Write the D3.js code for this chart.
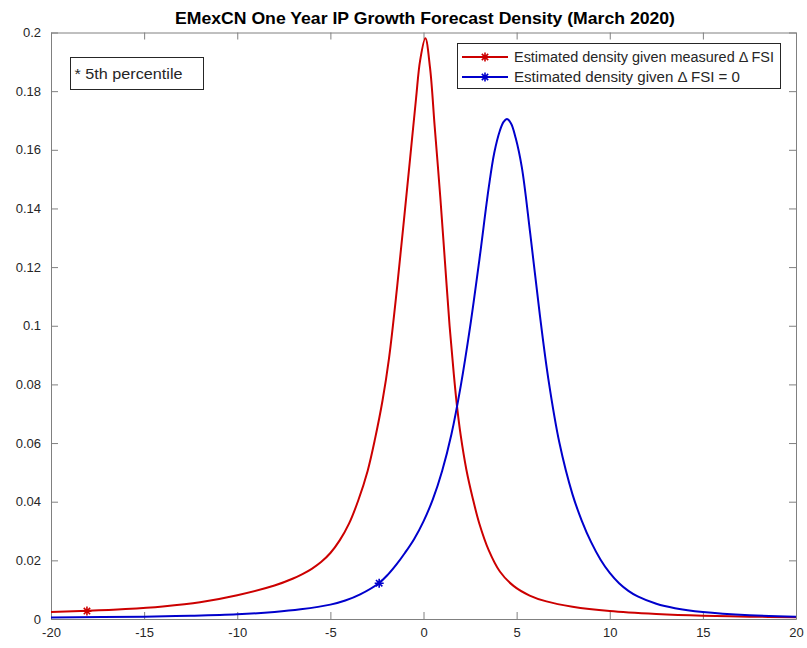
<!DOCTYPE html>
<html>
<head>
<meta charset="utf-8">
<script src="https://cdn.jsdelivr.net/npm/d3@7"></script>
<style>
  html, body { margin: 0; padding: 0; background: #fff; }
  svg { display: block; font-family: "Liberation Sans", Arial, Helvetica, sans-serif; }
</style>
</head>
<body>
<svg id="chart" width="807" height="648"></svg>
<script>
// ---- data ----
const chartTitle = "EMexCN One Year IP Growth Forecast Density (March 2020)";
const seriesNames = ["Estimated density given measured \u0394 FSI", "Estimated density given \u0394 FSI = 0"];
const seriesColors = ["#cc0000", "#0000cc"];

const redX = [-20, -18, -16, -14, -12, -10, -8, -7, -6.5, -6, -5.5, -5, -4.5, -4, -3.5, -3.0, -2.6, -2.2, -1.85, -1.42, -1.05, -0.72, -0.4, -0.18, 0.1, 0.35, 0.6, 0.9, 1.15, 1.4, 1.62, 1.8, 2.0, 2.3, 2.65, 3.0, 3.5, 4.1, 4.85, 5.7, 6.6, 8, 10, 12.5, 15, 17.5, 20];
const redY = [0.0024, 0.0028, 0.0034, 0.0043, 0.0057, 0.0081, 0.0114, 0.0138, 0.0153, 0.0171, 0.0194, 0.0225, 0.0268, 0.0325, 0.0405, 0.0505, 0.0615, 0.0745, 0.0890, 0.1130, 0.1360, 0.1570, 0.1775, 0.1905, 0.1980, 0.1880, 0.1680, 0.1440, 0.1220, 0.1000, 0.0840, 0.0725, 0.0625, 0.0510, 0.0410, 0.0325, 0.0235, 0.0162, 0.0112, 0.0080, 0.0060, 0.0042, 0.0027, 0.0017, 0.0011, 0.0008, 0.0006];

const blueX = [-20, -15, -12.5, -10, -8, -6.6, -5, -4.2, -3.4, -2.4, -1.9, -1.45, -1.0, -0.5, 0, 0.5, 1.0, 1.5, 2.0, 2.5, 3.0, 3.5, 3.8, 4.1, 4.3, 4.48, 4.7, 4.95, 5.28, 5.73, 6.25, 6.7, 7.3, 8.0, 8.5, 9.0, 9.5, 10.0, 10.5, 11.0, 11.5, 12.5, 13.5, 15, 17.5, 20];
const blueY = [0.0005, 0.0008, 0.0011, 0.0016, 0.0024, 0.0033, 0.0049, 0.0063, 0.0084, 0.0122, 0.0152, 0.0186, 0.0225, 0.0273, 0.0333, 0.0408, 0.0505, 0.0630, 0.0795, 0.0995, 0.1225, 0.1470, 0.1590, 0.1665, 0.1695, 0.1705, 0.1690, 0.1640, 0.1540, 0.1315, 0.1035, 0.0820, 0.0600, 0.0425, 0.0335, 0.0262, 0.0203, 0.0157, 0.0122, 0.0096, 0.0077, 0.0052, 0.0037, 0.0024, 0.0013, 0.0008];

// 5th percentile markers
const markerX = [-18.07, -2.38];
const markerY = [0.0027, 0.0122];

const xTicks = [-20, -15, -10, -5, 0, 5, 10, 15, 20];
const yTicks = [0, 0.02, 0.04, 0.06, 0.08, 0.1, 0.12, 0.14, 0.16, 0.18, 0.2];
const noteText = "* 5th percentile";

// ---- layout ----
const svg = d3.select("#chart");
const L = 51, R = 796, T = 32.5, B = 619;
const x = d3.scaleLinear().domain([-20, 20]).range([L, R]);
const y = d3.scaleLinear().domain([0, 0.2]).range([B, T]);
const axisColor = "#808080";
const textColor = "#262626";
const tickLen = 7;

function styleAxis(g) {
  g.selectAll("path.domain").attr("stroke", axisColor).attr("stroke-width", 1);
  g.selectAll(".tick line").attr("stroke", axisColor).attr("stroke-width", 1);
  g.selectAll(".tick text").attr("fill", textColor).attr("font-size", 13)
    .attr("font-family", "'Liberation Sans', Arial, sans-serif");
}
const yFmt = d => d === 0 ? "0" : String(+d.toFixed(2));
const xFmt = d => String(d);

svg.append("g").attr("transform", `translate(0,${B})`)
  .call(d3.axisBottom(x).tickValues(xTicks).tickSizeInner(-tickLen).tickSizeOuter(0).tickPadding(9).tickFormat(xFmt))
  .call(styleAxis);
svg.append("g").attr("transform", `translate(0,${T})`)
  .call(d3.axisTop(x).tickValues(xTicks).tickSizeInner(-tickLen).tickSizeOuter(0).tickFormat(""))
  .call(styleAxis);
svg.append("g").attr("transform", `translate(${L},0)`)
  .call(d3.axisLeft(y).tickValues(yTicks).tickSizeInner(-tickLen).tickSizeOuter(0).tickPadding(10).tickFormat(yFmt))
  .call(styleAxis);
svg.append("g").attr("transform", `translate(${R},0)`)
  .call(d3.axisRight(y).tickValues(yTicks).tickSizeInner(-tickLen).tickSizeOuter(0).tickFormat(""))
  .call(styleAxis);

// curves
const line = d3.line().x(d => x(d[0])).y(d => y(d[1])).curve(d3.curveCatmullRom.alpha(0.5));
const series = [d3.zip(redX, redY), d3.zip(blueX, blueY)];
svg.append("clipPath").attr("id", "clip").append("rect")
  .attr("x", L).attr("y", T).attr("width", R - L).attr("height", B - T);
series.forEach((s, i) => {
  svg.append("path").datum(s).attr("d", line).attr("fill", "none")
    .attr("stroke", seriesColors[i]).attr("stroke-width", 2).attr("clip-path", "url(#clip)");
});

// asterisk marker
function asterisk(g, cx, cy, r, color) {
  const a = r * Math.SQRT1_2;
  const d = `M${cx - r},${cy}L${cx + r},${cy}M${cx},${cy - r}L${cx},${cy + r}` +
            `M${cx - a},${cy - a}L${cx + a},${cy + a}M${cx - a},${cy + a}L${cx + a},${cy - a}`;
  g.append("path").attr("d", d).attr("stroke", color).attr("stroke-width", 1.6).attr("fill", "none");
}
markerX.forEach((mx, i) => asterisk(svg, x(mx), y(markerY[i]), 4.5, seriesColors[i]));

// title
svg.append("text").attr("x", 425).attr("y", 24).attr("text-anchor", "middle")
  .attr("font-size", 16.5).attr("font-weight", "bold").attr("fill", "#000")
  .attr("textLength", 500).attr("lengthAdjust", "spacingAndGlyphs").text(chartTitle);

// legend
const lg = svg.append("g");
lg.append("rect").attr("x", 457.5).attr("y", 43.5).attr("width", 323).attr("height", 45)
  .attr("fill", "#fff").attr("stroke", "#262626").attr("stroke-width", 1);
const legendW = [260, 226];
seriesNames.forEach((name, i) => {
  const yy = 57 + i * 20;
  lg.append("line").attr("x1", 462).attr("x2", 508).attr("y1", yy).attr("y2", yy)
    .attr("stroke", seriesColors[i]).attr("stroke-width", 2);
  asterisk(lg, 485, yy, 4.5, seriesColors[i]);
  lg.append("text").attr("x", 514).attr("y", yy).attr("dy", "0.35em")
    .attr("font-size", 14).attr("fill", textColor)
    .attr("textLength", legendW[i]).attr("lengthAdjust", "spacingAndGlyphs").text(name);
});

// note box
svg.append("rect").attr("x", 70.5).attr("y", 57.5).attr("width", 133).attr("height", 32)
  .attr("fill", "#fff").attr("stroke", "#262626").attr("stroke-width", 1);
svg.append("text").attr("x", 74.5).attr("y", 73.5).attr("dy", "0.35em")
  .attr("font-size", 14.5).attr("fill", textColor)
  .attr("textLength", 108).attr("lengthAdjust", "spacingAndGlyphs").text(noteText);
</script>
</body>
</html>
